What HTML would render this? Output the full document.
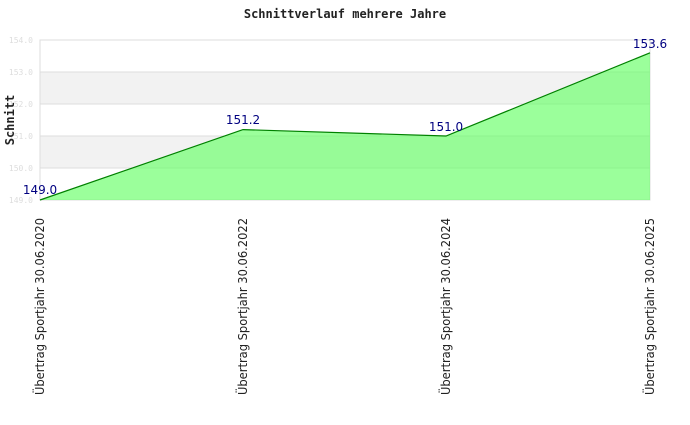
<!DOCTYPE html><html><head><style>body{margin:0;background:#fff}</style></head><body>
<svg width="690" height="420" xmlns="http://www.w3.org/2000/svg" font-family="DejaVu Sans, sans-serif">
<rect width="690" height="420" fill="#fff"/>
<text x="345" y="18" text-anchor="middle" font-family="DejaVu Sans Mono, monospace" font-weight="bold" font-size="12" fill="#222">Schnittverlauf mehrere Jahre</text>
<rect x="40" y="40" width="610" height="160" fill="#fff" stroke="#ddd"/>
<rect x="40" y="72" width="610" height="32" fill="#f2f2f2"/>
<rect x="40" y="136" width="610" height="32" fill="#f2f2f2"/>
<g stroke="#ddd"><line x1="40" x2="650" y1="72" y2="72"/><line x1="40" x2="650" y1="104" y2="104"/><line x1="40" x2="650" y1="136" y2="136"/><line x1="40" x2="650" y1="168" y2="168"/><line x1="40" x2="40" y1="40" y2="200"/><line x1="650" x2="650" y1="40" y2="200"/></g>
<g font-family="DejaVu Sans Mono, monospace" font-size="8" fill="#ddd" text-anchor="end"><text x="33" y="43">154.0</text><text x="33" y="75">153.0</text><text x="33" y="107">152.0</text><text x="33" y="139">151.0</text><text x="33" y="171">150.0</text><text x="33" y="203">149.0</text></g>
<polygon points="40,200 243,129.6 446,136 650,52.8 650,200" fill="#66ff66" fill-opacity="0.65"/>
<polyline points="40,200 243,129.6 446,136 650,52.8" fill="none" stroke="#008000" stroke-width="1.2"/>
<g font-size="12" fill="#000080" text-anchor="middle"><text x="40" y="194">149.0</text><text x="243" y="124">151.2</text><text x="446" y="131">151.0</text><text x="650" y="48">153.6</text></g>
<text transform="translate(14,120) rotate(-90)" text-anchor="middle" font-family="DejaVu Sans Mono, monospace" font-weight="bold" font-size="12" fill="#222">Schnitt</text>
<g font-size="12" fill="#222" text-anchor="end">
<text transform="translate(44,218) rotate(-90)" textLength="177" lengthAdjust="spacingAndGlyphs">Übertrag Sportjahr 30.06.2020</text>
<text transform="translate(247,218) rotate(-90)" textLength="177" lengthAdjust="spacingAndGlyphs">Übertrag Sportjahr 30.06.2022</text>
<text transform="translate(450,218) rotate(-90)" textLength="177" lengthAdjust="spacingAndGlyphs">Übertrag Sportjahr 30.06.2024</text>
<text transform="translate(654,218) rotate(-90)" textLength="177" lengthAdjust="spacingAndGlyphs">Übertrag Sportjahr 30.06.2025</text>
</g>
</svg></body></html>
